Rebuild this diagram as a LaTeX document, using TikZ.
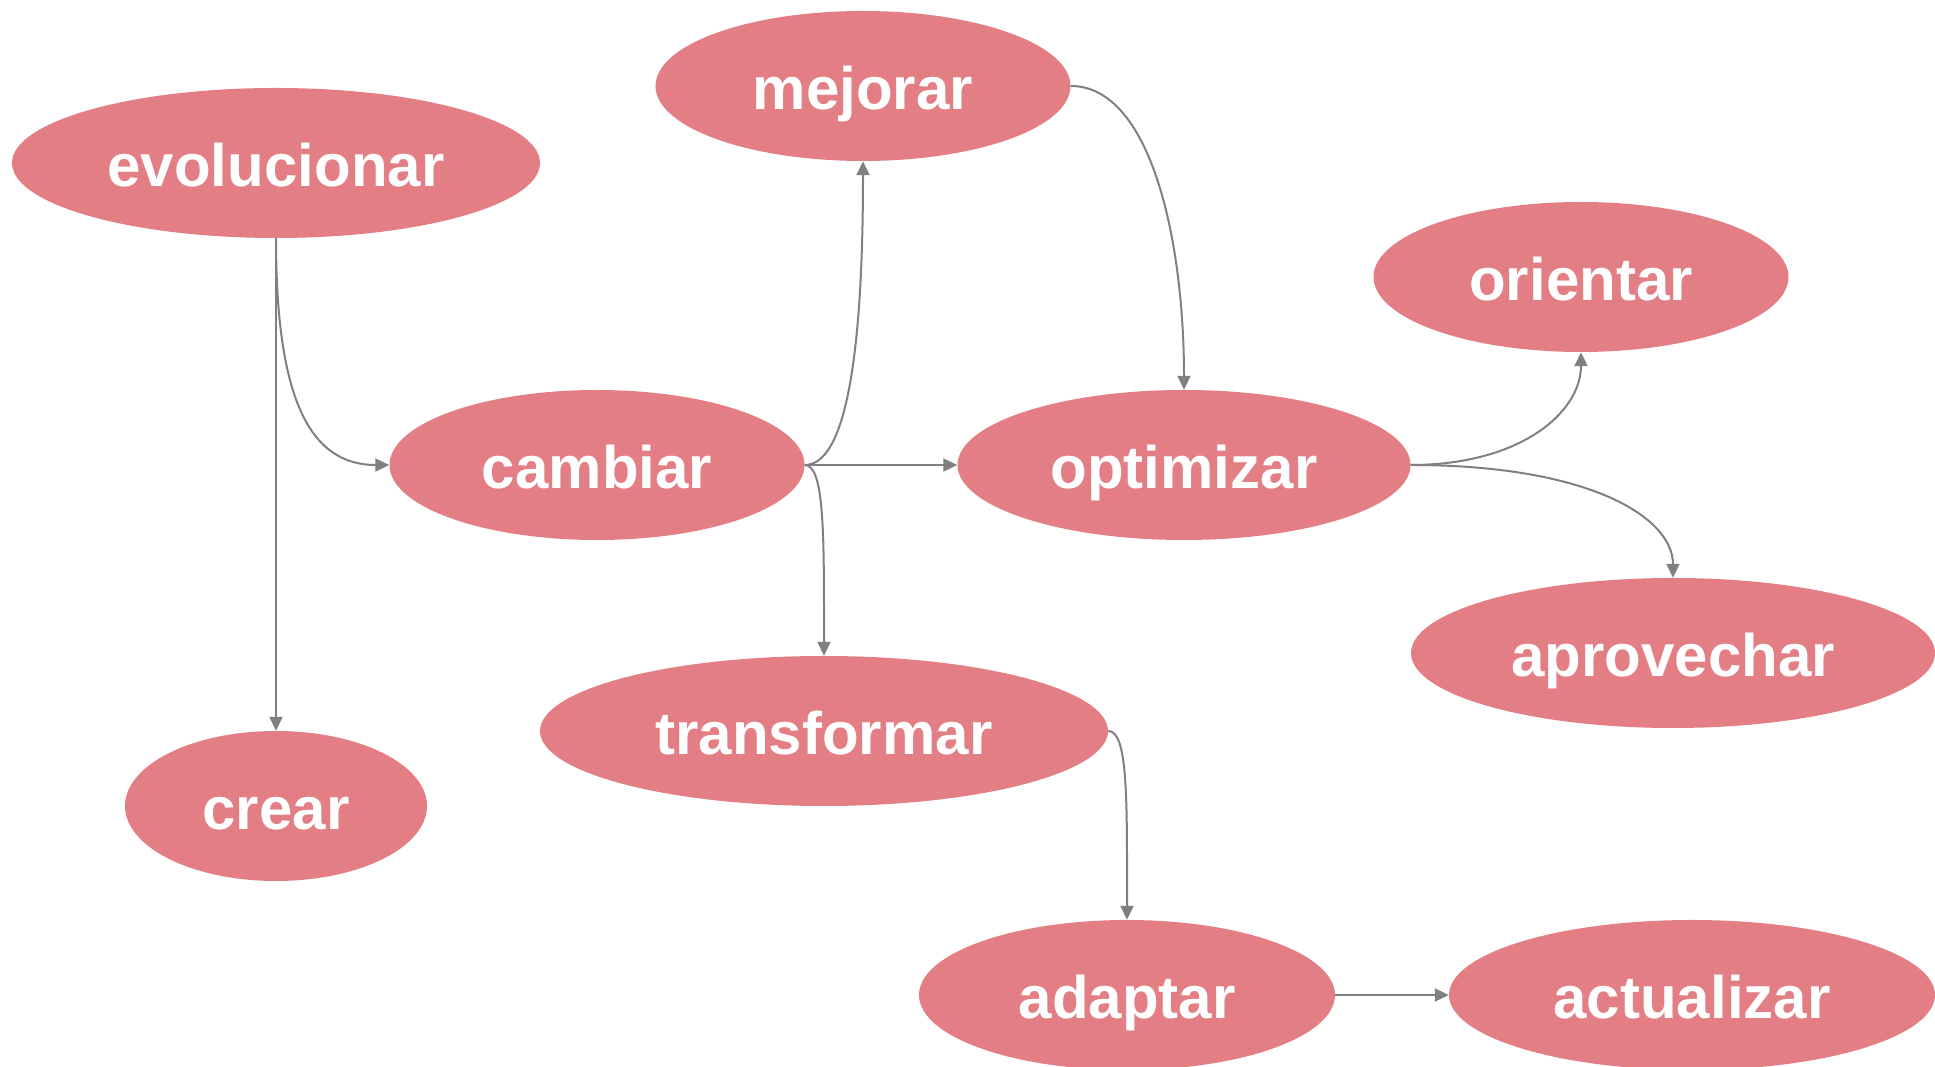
\documentclass[tikz,border=0pt]{standalone}
\usepackage{fontspec}
\setmainfont{Liberation Sans}
\usetikzlibrary{shapes.geometric,arrows.meta}
\definecolor{verbfill}{RGB}{226,126,132}
\tikzset{
 verb/.style={ellipse, fill=verbfill, text=white, font=\fontsize{60}{60}\selectfont\bfseries, inner sep=0pt, text height=47pt, text depth=0pt, minimum height=150pt},
 link/.style={draw=gray, line width=2pt, -{Triangle[length=14pt,width=13pt]}}
}
\begin{document}
\begin{tikzpicture}[x=1pt,y=1pt]
\useasboundingbox (0,0) rectangle (1935,1067);
\node (evolucionar) [verb,minimum width=528pt] at (276,904) {evolucionar};
\node (mejorar) [verb,minimum width=415pt] at (863,981) {mejorar};
\node (orientar) [verb,minimum width=415pt] at (1581,790) {orientar};
\node (cambiar) [verb,minimum width=415pt] at (597,602) {cambiar};
\node (optimizar) [verb,minimum width=453pt] at (1184,602) {optimizar};
\node (aprovechar) [verb,minimum width=524pt] at (1673,414) {aprovechar};
\node (transformar) [verb,minimum width=568pt] at (824,336) {transformar};
\node (crear) [verb,minimum width=302pt] at (276,261) {crear};
\node (adaptar) [verb,minimum width=416pt] at (1127,72) {adaptar};
\node (actualizar) [verb,minimum width=486pt] at (1692,72) {actualizar};
\draw[link] (evolucionar.south) -- (crear.north);
\draw[link] (evolucionar.south) to[out=-90,in=180,out distance=160pt,in distance=80pt] (cambiar.west);
\draw[link] (cambiar.east) to[out=0,in=-90,out distance=40pt,in distance=200pt] (mejorar.south);
\draw[link] (cambiar.east) -- (optimizar.west);
\draw[link] (cambiar.east) to[out=0,in=90,out distance=20pt,in distance=120pt] (transformar.north);
\draw[link] (mejorar.east) to[out=0,in=90,out distance=80pt,in distance=150pt] (optimizar.north);
\draw[link] (optimizar.east) to[out=0,in=-90,out distance=110pt,in distance=60pt] (orientar.south);
\draw[link] (optimizar.east) to[out=0,in=90,out distance=180pt,in distance=60pt] (aprovechar.north);
\draw[link] (transformar.east) to[out=0,in=90,out distance=20pt,in distance=120pt] (adaptar.north);
\draw[link] (adaptar.east) -- (actualizar.west);
\end{tikzpicture}
\end{document}
